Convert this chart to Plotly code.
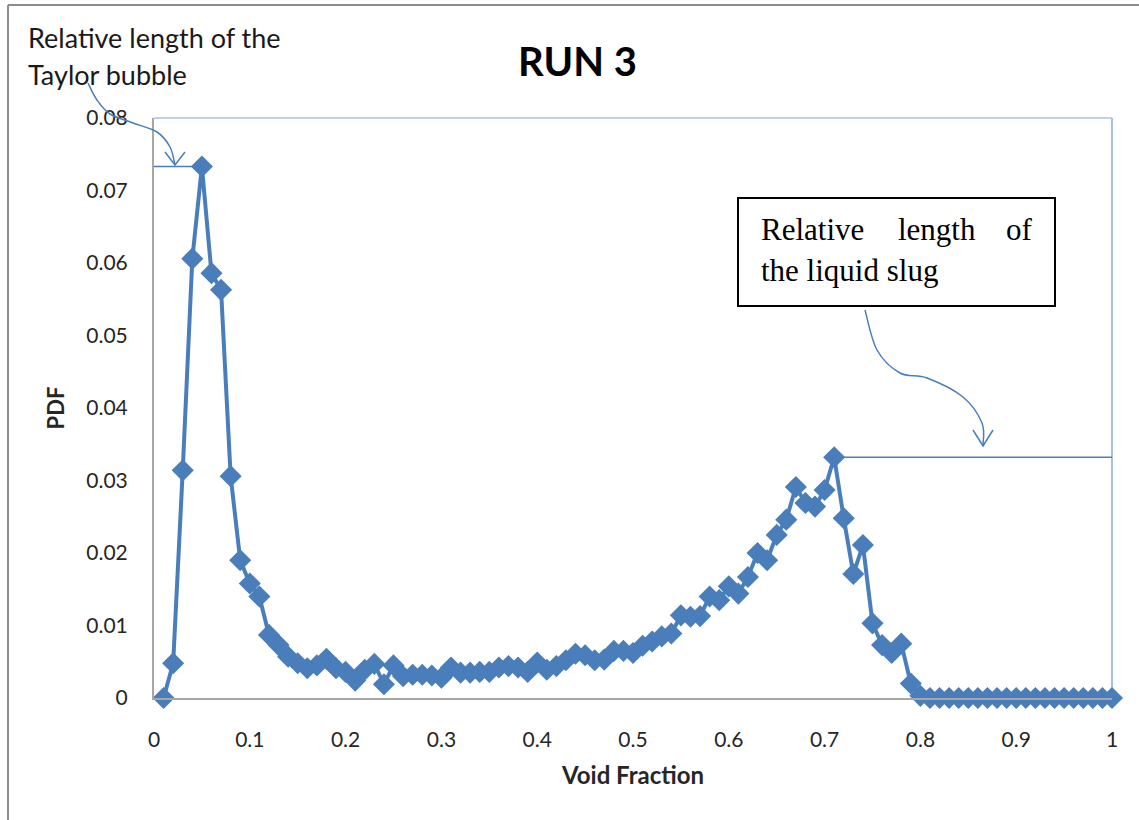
import plotly.graph_objects as go

# ---------------- data ----------------
void_fraction = [
    0.01, 0.02, 0.03, 0.04, 0.05, 0.06, 0.07, 0.08, 0.09, 0.10,
    0.11, 0.12, 0.13, 0.14, 0.15, 0.16, 0.17, 0.18, 0.19, 0.20,
    0.21, 0.22, 0.23, 0.24, 0.25, 0.26, 0.27, 0.28, 0.29, 0.30,
    0.31, 0.32, 0.33, 0.34, 0.35, 0.36, 0.37, 0.38, 0.39, 0.40,
    0.41, 0.42, 0.43, 0.44, 0.45, 0.46, 0.47, 0.48, 0.49, 0.50,
    0.51, 0.52, 0.53, 0.54, 0.55, 0.56, 0.57, 0.58, 0.59, 0.60,
    0.61, 0.62, 0.63, 0.64, 0.65, 0.66, 0.67, 0.68, 0.69, 0.70,
    0.71, 0.72, 0.73, 0.74, 0.75, 0.76, 0.77, 0.78, 0.79, 0.80,
    0.81, 0.82, 0.83, 0.84, 0.85, 0.86, 0.87, 0.88, 0.89, 0.90,
    0.91, 0.92, 0.93, 0.94, 0.95, 0.96, 0.97, 0.98, 0.99, 1.00,
]
pdf = [
    0.0000, 0.0048, 0.0314, 0.0606, 0.0733, 0.0586, 0.0563, 0.0306, 0.0190, 0.0158,
    0.0140, 0.0087, 0.0073, 0.0057, 0.0048, 0.0041, 0.0045, 0.0054, 0.0041, 0.0036,
    0.0024, 0.0039, 0.0047, 0.0019, 0.0045, 0.0030, 0.0032, 0.0032, 0.0031, 0.0028,
    0.0042, 0.0035, 0.0035, 0.0036, 0.0036, 0.0042, 0.0044, 0.0042, 0.0036, 0.0049,
    0.0039, 0.0044, 0.0052, 0.0061, 0.0059, 0.0052, 0.0053, 0.0065, 0.0065, 0.0062,
    0.0072, 0.0078, 0.0085, 0.0089, 0.0114, 0.0112, 0.0113, 0.0140, 0.0135, 0.0154,
    0.0144, 0.0167, 0.0200, 0.0190, 0.0225, 0.0246, 0.0291, 0.0269, 0.0264, 0.0287,
    0.0332, 0.0248, 0.0171, 0.0211, 0.0103, 0.0073, 0.0062, 0.0075, 0.0020, 0.0003,
    0.0000, 0.0000, 0.0000, 0.0000, 0.0000, 0.0000, 0.0000, 0.0000, 0.0000, 0.0000,
    0.0000, 0.0000, 0.0000, 0.0000, 0.0000, 0.0000, 0.0000, 0.0000, 0.0000, 0.0000,
]
x_ticks = [0, 0.1, 0.2, 0.3, 0.4, 0.5, 0.6, 0.7, 0.8, 0.9, 1]
x_tick_labels = ["0", "0.1", "0.2", "0.3", "0.4", "0.5", "0.6", "0.7", "0.8", "0.9", "1"]
y_ticks = [0, 0.01, 0.02, 0.03, 0.04, 0.05, 0.06, 0.07, 0.08]
y_tick_labels = ["0", "0.01", "0.02", "0.03", "0.04", "0.05", "0.06", "0.07", "0.08"]

# ---------------- layout geometry ----------------
W, H = 1139, 820
L, R, T, B = 154, 27, 118, 122
PW, PH = W - L - R, H - T - B

def px(xp):
    return (xp - L) / PW

def py(yp):
    return (H - B - yp) / PH

def path(points):
    a, b = points[0]
    s = f"M {px(a):.5f},{py(b):.5f}"
    for a, b in points[1:]:
        s += f" L {px(a):.5f},{py(b):.5f}"
    return s

def curve(points):
    # smooth path through points using Catmull-Rom -> cubic Bezier
    pts = [(px(a), py(b)) for a, b in points]
    d = f"M {pts[0][0]:.5f},{pts[0][1]:.5f}"
    for i in range(len(pts) - 1):
        p0 = pts[i - 1] if i > 0 else pts[i]
        p1 = pts[i]
        p2 = pts[i + 1]
        p3 = pts[i + 2] if i + 2 < len(pts) else pts[i + 1]
        c1 = (p1[0] + (p2[0] - p0[0]) / 6, p1[1] + (p2[1] - p0[1]) / 6)
        c2 = (p2[0] - (p3[0] - p1[0]) / 6, p2[1] - (p3[1] - p1[1]) / 6)
        d += f" C {c1[0]:.5f},{c1[1]:.5f} {c2[0]:.5f},{c2[1]:.5f} {p2[0]:.5f},{p2[1]:.5f}"
    return d

BLUE = "#4a7ebb"
LIGHT = "#7fa3d6"
FONT = "Lato"

fig = go.Figure()
fig.add_trace(go.Scatter(
    x=void_fraction, y=pdf, mode="lines+markers",
    line=dict(color=BLUE, width=4),
    marker=dict(symbol="diamond", size=17, color=BLUE),
    showlegend=False, cliponaxis=False,
))

# reference lines derived from the data peaks
i1 = max(range(0, 40), key=lambda i: pdf[i])
i2 = max(range(40, len(pdf)), key=lambda i: pdf[i])
shapes = [
    dict(type="line", xref="x", yref="y", x0=0, x1=void_fraction[i1], y0=pdf[i1], y1=pdf[i1],
         line=dict(color=BLUE, width=1.5), layer="below"),
    dict(type="line", xref="x", yref="y", x0=void_fraction[i2], x1=1, y0=pdf[i2], y1=pdf[i2],
         line=dict(color=BLUE, width=1.5), layer="below"),
    # top and right frame of plot area
    dict(type="line", xref="paper", yref="paper", x0=0, x1=1, y0=1, y1=1,
         line=dict(color=LIGHT, width=1.2), layer="below"),
    dict(type="line", xref="paper", yref="paper", x0=1, x1=1, y0=0, y1=1,
         line=dict(color="#a9c0e2", width=2), layer="below"),
    # outer frame (top / left)
    dict(type="line", xref="paper", yref="paper", x0=px(8), x1=px(W + 5), y0=py(5), y1=py(5),
         line=dict(color="#8c8c8c", width=2)),
    dict(type="line", xref="paper", yref="paper", x0=px(8), x1=px(8), y0=py(5), y1=py(H + 5),
         line=dict(color="#8c8c8c", width=2)),
    # Taylor bubble arrow
    dict(type="path", xref="paper", yref="paper",
         path=curve([(88, 83), (97, 100), (110, 114), (133, 123), (157, 132), (170, 147), (175, 165)]),
         line=dict(color=BLUE, width=1.5)),
    dict(type="path", xref="paper", yref="paper",
         path=path([(165, 152), (175, 165), (185, 152)]),
         line=dict(color=BLUE, width=1.5)),
    # liquid slug box
    dict(type="rect", xref="paper", yref="paper", x0=px(738), x1=px(1055), y0=py(198), y1=py(306),
         line=dict(color="black", width=2), fillcolor="white"),
    # liquid slug arrow
    dict(type="path", xref="paper", yref="paper",
         path=curve([(865, 310), (877, 350), (900, 373), (927, 378), (963, 397), (982, 423), (983, 446)]),
         line=dict(color=BLUE, width=1.5)),
    dict(type="path", xref="paper", yref="paper",
         path=path([(973, 430), (983, 446), (993, 430)]),
         line=dict(color=BLUE, width=1.5)),
]

serif = dict(family="Liberation Serif", size=31, color="black")
annotations = [
    dict(text="<b>RUN 3</b>", xref="paper", yref="paper", x=px(577), y=py(61),
         xanchor="center", yanchor="middle", showarrow=False,
         font=dict(family=FONT, size=40, color="black")),
    dict(text="Relative length of the", xref="paper", yref="paper", x=px(26), y=py(37),
         xanchor="left", yanchor="middle", showarrow=False,
         font=dict(family=FONT, size=27, color="#1a1a1a")),
    dict(text="Taylor bubble", xref="paper", yref="paper", x=px(26), y=py(74),
         xanchor="left", yanchor="middle", showarrow=False,
         font=dict(family=FONT, size=27, color="#1a1a1a")),
    dict(text="Relative", xref="paper", yref="paper", x=px(759), y=py(229),
         xanchor="left", yanchor="middle", showarrow=False, font=serif),
    dict(text="length", xref="paper", yref="paper", x=px(937), y=py(229),
         xanchor="center", yanchor="middle", showarrow=False, font=serif),
    dict(text="of", xref="paper", yref="paper", x=px(1035), y=py(229),
         xanchor="right", yanchor="middle", showarrow=False, font=serif),
    dict(text="the liquid slug", xref="paper", yref="paper", x=px(759), y=py(270),
         xanchor="left", yanchor="middle", showarrow=False, font=serif),
]

fig.update_layout(
    width=W, height=H,
    margin=dict(l=L, r=R, t=T, b=B, autoexpand=False),
    paper_bgcolor="white", plot_bgcolor="white",
    shapes=shapes, annotations=annotations,
    showlegend=False,
    xaxis=dict(
        range=[0, 1], tickvals=x_ticks, ticktext=x_tick_labels,
        showgrid=False, zeroline=False, showline=True, linecolor="#a6a6a6", linewidth=2,
        ticks="", ticklabelstandoff=22,
        tickfont=dict(family=FONT, size=21, color="#262626"),
        title=dict(text="<b>Void Fraction</b>", standoff=17,
                   font=dict(family=FONT, size=24, color="#262626")),
        automargin=False,
    ),
    yaxis=dict(
        range=[0, 0.08], tickvals=y_ticks, ticktext=y_tick_labels,
        showgrid=False, zeroline=False, showline=True, linecolor="#a6a6a6", linewidth=2,
        ticks="", ticklabelstandoff=20,
        tickfont=dict(family=FONT, size=21, color="#262626"),
        title=dict(text="<b>PDF</b>", standoff=16,
                   font=dict(family=FONT, size=22, color="#262626")),
        automargin=False,
    ),
)

fig.write_html("out.html")
